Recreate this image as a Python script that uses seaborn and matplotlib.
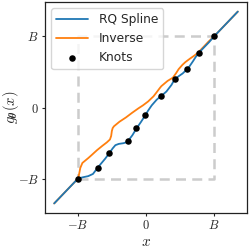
import matplotlib
matplotlib.use("Agg")
import matplotlib.pyplot as plt
import seaborn as sns
import pandas as pd

# knots of the rational-quadratic spline (10 bins on [-B, B], B = 1)
knot_x = [-1.0, -0.711, -0.538, -0.265, -0.140, -0.010, 0.215, 0.420, 0.600, 0.773, 1.0]
knot_y = [-1.0, -0.848, -0.640, -0.472, -0.295, -0.109, 0.157, 0.395, 0.535, 0.766, 1.0]

# spline curve (identity tails outside [-B, B])
spline_x = [-1.35, -1.0, -0.93, -0.85, -0.78, -0.711, -0.67, -0.60, -0.538,
            -0.49, -0.45, -0.40, -0.33, -0.29, -0.265, -0.20, -0.140,
            -0.075, -0.010, 0.03, 0.084, 0.157, 0.215, 0.27, 0.30, 0.374,
            0.420, 0.48, 0.54, 0.600, 0.64, 0.69, 0.73, 0.773, 0.855, 0.928,
            1.0, 1.35]
spline_y = [-1.35, -1.0, -0.982, -0.966, -0.935, -0.848, -0.80, -0.72, -0.640,
            -0.575, -0.53, -0.512, -0.502, -0.49, -0.472, -0.39, -0.295,
            -0.205, -0.109, -0.045, 0.03, 0.11, 0.157, 0.20, 0.225, 0.317,
            0.395, 0.44, 0.48, 0.535, 0.58, 0.65, 0.71, 0.766, 0.848, 0.92,
            1.0, 1.35]

sns.set_style("ticks")
plt.rcParams["mathtext.fontset"] = "cm"
plt.rcParams["font.family"] = ["DejaVu Sans"]

blue = "#1f77b4"
orange = "#ff7f0e"

fig, ax = plt.subplots(figsize=(2.5, 2.48), dpi=100)
fig.subplots_adjust(left=0.18, right=0.988, bottom=0.141, top=0.992)

# the [-B, B] box
box = pd.DataFrame({"x": [-1, 1, 1, -1, -1], "y": [-1, -1, 1, 1, -1]})
ax.plot(box["x"], box["y"], color="#cccccc", lw=1.8, ls=(0, (4, 2.5)), zorder=1)

curve = pd.DataFrame({"x": spline_x, "y": spline_y})
sns.lineplot(data=curve, x="x", y="y", sort=False, estimator=None,
             color=blue, lw=1.3, ax=ax, label="RQ Spline", zorder=3)
# inverse: same curve with the axes swapped
sns.lineplot(data=curve, x="y", y="x", sort=False, estimator=None,
             color=orange, lw=1.3, ax=ax, label="Inverse", zorder=2)
knots = pd.DataFrame({"x": knot_x, "y": knot_y})
sns.scatterplot(data=knots, x="x", y="y", color="black", s=22, linewidth=0,
                ax=ax, label="Knots", zorder=4)

ax.set_xticks([-1, 0, 1])
ax.set_xticklabels(["$-B$", "$0$", "$B$"], fontsize=9)
ax.set_yticks([-1, 0, 1])
ax.set_yticklabels(["$-B$", "$0$", "$B$"], fontsize=9)
ax.set_xlabel("$x$", fontsize=11, labelpad=1)
ax.set_ylabel(r"$g_{\boldsymbol{\theta}}(x)$", fontsize=10.5)
ax.yaxis.set_label_coords(-0.12, 0.5)
ax.tick_params(length=2.5, width=0.8, pad=2)
for s in ax.spines.values():
    s.set_linewidth(0.9)
    s.set_color("#222222")

ax.legend(loc="upper left", fontsize=8.8, handlelength=2.6, borderaxespad=0.5,
          handletextpad=0.9, labelspacing=0.5, framealpha=0.8)

fig.savefig("out.png", dpi=100)
